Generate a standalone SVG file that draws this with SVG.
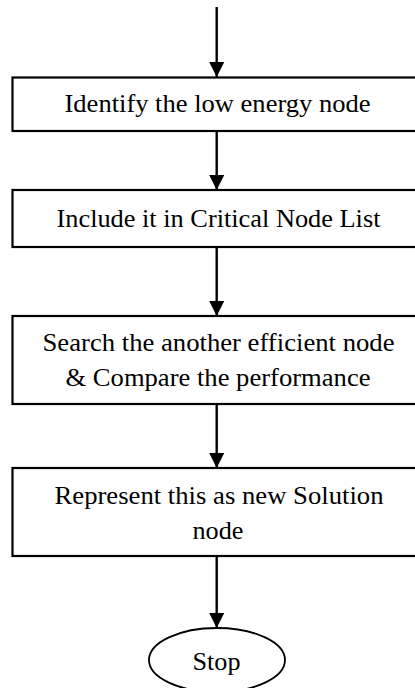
<svg xmlns="http://www.w3.org/2000/svg" width="415" height="688" viewBox="0 0 415 688">
  <style>
    .box { fill: #ffffff; stroke: #000000; stroke-width: 2.2; }
    .term { fill: #ffffff; stroke: #000000; stroke-width: 1.8; }
    .lbl { font-family: "Liberation Serif", "Times New Roman", serif; font-size: 25.5px; fill: #000000; text-anchor: middle; }
    .flow { stroke: #000000; stroke-width: 2.4; fill: none; marker-end: url(#head); }
  </style>
  <defs>
    <marker id="head" viewBox="0 0 15 15" refX="15" refY="7.5" markerWidth="15" markerHeight="15" markerUnits="userSpaceOnUse" orient="auto">
      <path d="M0,0 L15,7.5 L0,15 Z" fill="#000000"/>
    </marker>
  </defs>

  <rect width="415" height="688" fill="#ffffff"/>

  <g id="connectors">
    <line class="flow" x1="216.7" y1="7" x2="216.7" y2="77"/>
    <line class="flow" x1="216.7" y1="131" x2="216.7" y2="190"/>
    <line class="flow" x1="216.7" y1="247" x2="216.7" y2="316"/>
    <line class="flow" x1="216.7" y1="404" x2="216.7" y2="468"/>
    <line class="flow" x1="216.7" y1="556" x2="216.7" y2="628"/>
  </g>

  <g id="identify">
    <rect class="box" x="12.5" y="77.5" width="410" height="53.5"/>
    <text class="lbl" x="217.5" y="112" textLength="306" lengthAdjust="spacingAndGlyphs">Identify the low energy node</text>
  </g>

  <g id="include">
    <rect class="box" x="12.5" y="190" width="410" height="57"/>
    <text class="lbl" x="218.5" y="226.5" textLength="324" lengthAdjust="spacingAndGlyphs">Include it in Critical Node List</text>
  </g>

  <g id="search">
    <rect class="box" x="12.5" y="316" width="410" height="88"/>
    <text class="lbl" x="218.5" y="350.5" textLength="352" lengthAdjust="spacingAndGlyphs">Search the another efficient node</text>
    <text class="lbl" x="218" y="385.5" textLength="305" lengthAdjust="spacingAndGlyphs">&amp; Compare the performance</text>
  </g>

  <g id="represent">
    <rect class="box" x="12.5" y="468" width="410" height="88"/>
    <text class="lbl" x="219" y="504" textLength="329" lengthAdjust="spacingAndGlyphs">Represent this as new Solution</text>
    <text class="lbl" x="218" y="539" textLength="51" lengthAdjust="spacingAndGlyphs">node</text>
  </g>

  <g id="stop">
    <ellipse class="term" cx="217" cy="660" rx="68" ry="32"/>
    <text class="lbl" x="216.5" y="670" textLength="48" lengthAdjust="spacingAndGlyphs">Stop</text>
  </g>
</svg>
